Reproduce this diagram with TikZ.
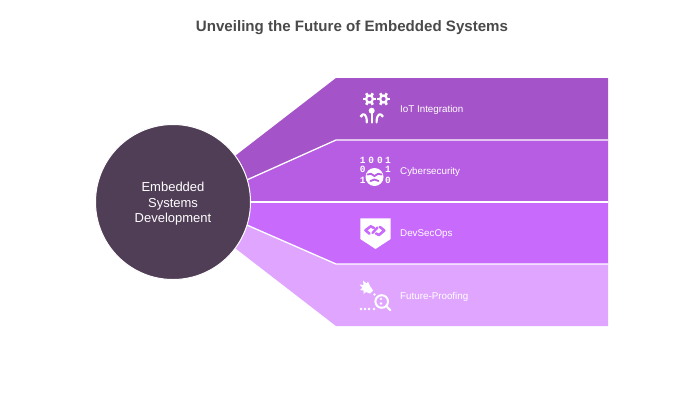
\documentclass[tikz,border=0pt]{standalone}
\usepackage{fontspec}
\setmainfont{Liberation Sans}
\newfontfamily\digitfont{Liberation Mono}
\definecolor{bandA}{HTML}{A454C8}
\definecolor{bandB}{HTML}{B75DE3}
\definecolor{bandC}{HTML}{C86BFC}
\definecolor{bandD}{HTML}{E0A6FF}
\definecolor{hub}{HTML}{503D56}
\definecolor{titlec}{HTML}{4A4A4A}
\tikzset{
 sep/.style={draw=white,line width=1.3pt},
 hubnode/.style={circle,fill=hub,draw=white,line width=1pt,minimum size=155pt,inner sep=0pt},
 hubtext/.style={text=white,inner sep=0pt,align=center,font=\fontsize{13}{15.6}\selectfont},
 lab/.style={anchor=west,text=white,inner sep=0pt,font=\fontsize{9.8}{11}\selectfont},
 icol/.style={draw=white,line width=2.1pt,line cap=round,line join=round},
 dig/.style={text=white,inner sep=0pt,font=\digitfont\bfseries\fontsize{9.5}{9.5}\selectfont},
 cut/.style={line width=1.8pt,line cap=round,line join=round},
}
\newcommand{\mygear}[2]{%
 \foreach \a in {0,60,120}{\draw[white,line width=2.6pt,shift={(#1,#2)}] (\a:-6.6) -- (\a:6.6);}
 \fill[white] (#1,#2) circle (4.6);
 \fill[bandA] (#1,#2) circle (2.1);
}
\begin{document}
\begin{tikzpicture}[x=1pt,y=-1pt]
\useasboundingbox (0,0) rectangle (700,400);
\fill[white] (0,0) rectangle (700,400);
\node[font=\bfseries\fontsize{15.1}{18}\selectfont,text=titlec,inner sep=0pt] (title) at (352,28) {Unveiling the Future of Embedded Systems};
\fill[bandA] (225,163.7) -- (336,78) -- (608,78) -- (608,140) -- (336,140) -- (240,183) -- cycle;
\fill[bandB] (240,183) -- (336,140) -- (608,140) -- (608,202) -- (240,202) -- cycle;
\fill[bandC] (240,202) -- (608,202) -- (608,264) -- (336,264) -- (240,222) -- cycle;
\fill[bandD] (240,222) -- (336,264) -- (608,264) -- (608,326) -- (336,326) -- (225,240.3) -- cycle;
\draw[sep] (240,183) -- (336,140) -- (608,140);
\draw[sep] (240,202) -- (608,202);
\draw[sep] (240,222) -- (336,264) -- (608,264);
\node[hubnode] (hub) at (173,202) {};
\node[hubtext] (hubt) at (173,204) {Embedded\\Systems\\Development};
\node[lab] (l1) at (400,109.5) {IoT Integration};
\node[lab] (l2) at (400,172) {Cybersecurity};
\node[lab] (l3) at (400,234) {DevSecOps};
\node[lab] (l4) at (400,296.5) {Future-Proofing};
% IoT icon
\mygear{369.5}{99}\mygear{383.5}{99}
\fill[white] (371.7,110.7) circle (3);
\draw[icol] (371.7,111) -- (371.7,122.5);
\draw[icol] (361.5,115.5) .. controls (363,113) and (367,113.5) .. (366.8,122.5);
\draw[icol] (382,115.5) .. controls (380.5,113) and (376.5,113.5) .. (376.6,122.5);
\fill[white] (361.3,116) circle (1.7);
\fill[white] (382.2,116) circle (1.7);
% Cybersecurity icon
\foreach \n/\x/\y/\t in {a/362.7/160/1,b/371.2/160/0,c/380/160/0,d/388/160/1,e/362.7/169.5/0,f/388/169.5/1,g/362.7/180.5/1,h/388/180/0}{
 \node[dig] (d\n) at (\x,\y) {\t};}
\fill[white] (374.5,177) circle (9);
\draw[bandB,cut] (367.5,174.5) -- (371,173.8) -- (374.5,176) -- (378,173.8) -- (381.5,174.5);
\draw[bandB,cut] (370.5,181) -- (374.5,179.5) -- (378.5,181);
% DevSecOps icon
\fill[white] (360.3,218.3) -- (390.7,218.3) -- (390.7,239) -- (375.5,249) -- (360.3,239) -- cycle;
\draw[bandC,cut,line width=2.6pt] (374,228) -- (370.7,226.3) -- (365.5,230.3) -- (369.5,233.7);
\draw[bandC,cut,line width=2.6pt] (376,233.5) -- (379,235) -- (384.3,230.5) -- (380,227);
\draw[bandC,cut,line width=2.4pt] (372.5,233) -- (377.5,227.5);
% Future-Proofing icon
\fill[white] (359.5,284.5) -- (363.5,285) -- (363,280.5) -- (366.5,283.5) -- (368,281.5) -- (370,286) -- (373,290.5) -- (370,293.5) -- (366,292) -- (363.5,294) -- (363.5,290.5) -- (360,290) -- (362.5,287.5) -- cycle;
\fill[white] (374.5,294.5) circle (1.4);
\draw[white,line width=2pt] (381.7,301.5) circle (6.3);
\draw[icol] (386.5,306.2) -- (390.3,310.2);
\fill[white] (381,298.8) circle (1.3);
\fill[white] (381,303.5) circle (1.3);
\foreach \x in {361,365,369,374}{\fill[white] (\x,309) circle (1.3);}
\end{tikzpicture}
\end{document}
